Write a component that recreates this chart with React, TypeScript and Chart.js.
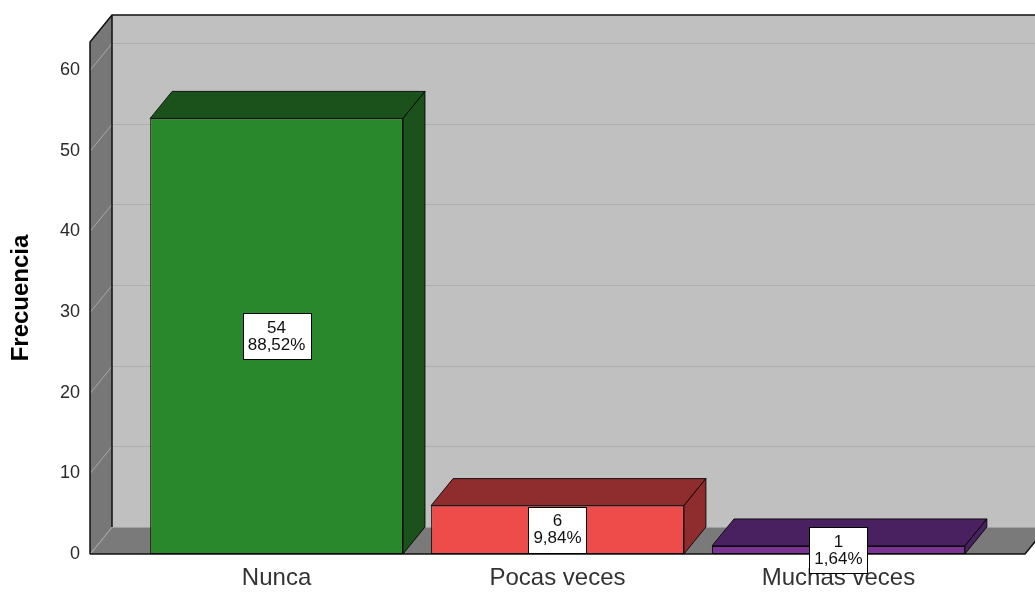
import React, { useEffect, useRef } from 'react';
import { Chart, registerables } from 'chart.js';

Chart.register(...registerables);

const categories = ['Nunca', 'Pocas veces', 'Muchas veces'];
const counts = [54, 6, 1];
const percents = ['88,52%', '9,84%', '1,64%'];
const yTicks = [0, 10, 20, 30, 40, 50, 60];
const frontColors = ['#2A882C', '#EE4B4B', '#7B3394'];
const darkColors = ['#1B521B', '#8E2C2E', '#4A2160'];

const Y_MAX = 63.47;
const X_MIN = -0.664;
const X_MAX = 2.664;
const DX = 22;
const DY = -27;
const FONT = '"Liberation Sans", Arial, sans-serif';

const wallsPlugin = {
  id: 'walls3d',
  beforeDraw(chart: any) {
    const { ctx, chartArea } = chart;
    const { left: L, right: R, top: T, bottom: B } = chartArea;
    const yScale = chart.scales.y;
    ctx.save();
    ctx.fillStyle = '#C0C0C0';
    ctx.fillRect(L + DX, T + DY, R - L + 40, B - T);
    ctx.fillStyle = '#777777';
    ctx.beginPath();
    ctx.moveTo(L, T);
    ctx.lineTo(L + DX, T + DY);
    ctx.lineTo(L + DX, B + DY);
    ctx.lineTo(L, B);
    ctx.closePath();
    ctx.fill();
    ctx.fillStyle = '#7A7A7A';
    ctx.beginPath();
    ctx.moveTo(L, B);
    ctx.lineTo(L + DX, B + DY);
    ctx.lineTo(R + DX, B + DY);
    ctx.lineTo(R, B);
    ctx.closePath();
    ctx.fill();
    ctx.lineWidth = 1;
    yTicks.forEach((v) => {
      const py = Math.round(yScale.getPixelForValue(v)) + 0.5;
      if (v > 0) {
        ctx.strokeStyle = '#ADADAD';
        ctx.beginPath();
        ctx.moveTo(L + DX, py + DY);
        ctx.lineTo(R + DX + 40, py + DY);
        ctx.stroke();
      }
      ctx.strokeStyle = '#A8A8A8';
      ctx.beginPath();
      ctx.moveTo(L, py);
      ctx.lineTo(L + DX, py + DY);
      ctx.stroke();
    });
    ctx.strokeStyle = '#A0A0A0';
    ctx.beginPath();
    ctx.moveTo(L + DX, B + DY + 0.5);
    ctx.lineTo(R + DX + 40, B + DY + 0.5);
    ctx.stroke();
    ctx.strokeStyle = '#111111';
    ctx.lineWidth = 1.5;
    ctx.beginPath();
    ctx.moveTo(L, B);
    ctx.lineTo(L, T);
    ctx.lineTo(L + DX, T + DY);
    ctx.lineTo(R + DX + 40, T + DY);
    ctx.moveTo(L + DX, T + DY);
    ctx.lineTo(L + DX, B + DY);
    ctx.moveTo(L, B);
    ctx.lineTo(R, B);
    ctx.lineTo(R + DX, B + DY);
    ctx.stroke();
    ctx.restore();
  },
};

const barsPlugin = {
  id: 'bars3d',
  afterDatasetsDraw(chart: any) {
    const { ctx } = chart;
    const meta = chart.getDatasetMeta(0);
    ctx.save();
    meta.data.forEach((bar: any, i: number) => {
      const { x, y, base, width } = bar.getProps(['x', 'y', 'base', 'width'], true);
      const l = x - width / 2;
      const r = x + width / 2;
      ctx.fillStyle = darkColors[i];
      ctx.strokeStyle = 'rgba(0,0,0,0.85)';
      ctx.lineWidth = 1;
      ctx.beginPath();
      ctx.moveTo(l, y);
      ctx.lineTo(l + DX, y + DY);
      ctx.lineTo(r + DX, y + DY);
      ctx.lineTo(r, y);
      ctx.closePath();
      ctx.fill();
      ctx.stroke();
      ctx.beginPath();
      ctx.moveTo(r, y);
      ctx.lineTo(r + DX, y + DY);
      ctx.lineTo(r + DX, base + DY);
      ctx.lineTo(r, base);
      ctx.closePath();
      ctx.fill();
      ctx.stroke();
    });
    ctx.font = '17px ' + FONT;
    ctx.textAlign = 'center';
    ctx.textBaseline = 'middle';
    meta.data.forEach((bar: any, i: number) => {
      const { x, y, base } = bar.getProps(['x', 'y', 'base'], true);
      const cy = (y + base) / 2;
      const l1 = String(counts[i]);
      const l2 = percents[i];
      const w = Math.max(ctx.measureText(l1).width, ctx.measureText(l2).width) + 10;
      const h = 46;
      const bx = Math.round(x - w / 2) + 0.5;
      const by = Math.round(cy - h / 2) + 0.5;
      ctx.fillStyle = '#FFFFFF';
      ctx.fillRect(bx, by, Math.round(w), h);
      ctx.strokeStyle = '#000000';
      ctx.lineWidth = 1;
      ctx.strokeRect(bx, by, Math.round(w), h);
      ctx.fillStyle = '#111111';
      ctx.fillText(l1, x, cy - 8);
      ctx.fillText(l2, x, cy + 9);
    });
    ctx.restore();
  },
};

export default function App() {
  const canvasRef = useRef<HTMLCanvasElement | null>(null);

  useEffect(() => {
    if (!canvasRef.current) return;
    const chart = new Chart(canvasRef.current, {
      type: 'bar',
      data: {
        datasets: [
          {
            label: 'Frecuencia',
            data: counts.map((v, i) => ({ x: i, y: v })),
            backgroundColor: frontColors,
            borderColor: 'rgba(0,0,0,0.85)',
            borderWidth: 1,
            borderSkipped: false,
            barPercentage: 0.9,
            categoryPercentage: 1,
          },
        ],
      },
      options: {
        responsive: false,
        animation: false,
        maintainAspectRatio: false,
        layout: { padding: { left: 0, top: 42, right: 10, bottom: 0 } },
        plugins: {
          legend: { display: false },
          tooltip: { enabled: false },
        },
        scales: {
          x: {
            type: 'linear',
            offset: false,
            min: X_MIN,
            max: X_MAX,
            grace: 0,
            grid: { display: false, drawTicks: false, offset: false },
            border: { display: false },
            afterBuildTicks: (scale: any) => {
              scale.ticks = categories.map((_, i) => ({ value: i }));
            },
            afterFit: (scale: any) => {
              scale.height = 40;
            },
            ticks: {
              padding: 10,
              autoSkip: false,
              maxRotation: 0,
              color: '#333333',
              font: { family: FONT, size: 24 },
              callback: (v: any) => categories[Math.round(Number(v))] ?? '',
            },
          },
          y: {
            min: 0,
            max: Y_MAX,
            grid: { display: false, drawTicks: false },
            border: { display: false },
            afterBuildTicks: (scale: any) => {
              scale.ticks = yTicks.map((v) => ({ value: v }));
            },
            afterFit: (scale: any) => {
              scale.width = 90;
            },
            ticks: {
              padding: 10,
              color: '#2A2A2A',
              font: { family: FONT, size: 18 },
            },
            title: {
              display: true,
              text: 'Frecuencia',
              color: '#000000',
              padding: { top: 7, bottom: 0 },
              font: { family: FONT, size: 24, weight: 'bold', lineHeight: 1.2 },
            },
          },
        },
      },
      plugins: [wallsPlugin, barsPlugin],
    });
    return () => chart.destroy();
  }, []);

  return (
    <div
      style={{
        position: 'fixed',
        left: 0,
        top: 0,
        width: 1035,
        height: 594,
        overflow: 'hidden',
        background: '#FFFFFF',
      }}
    >
      <canvas ref={canvasRef} width={1035} height={594} style={{ width: 1035, height: 594, display: 'block' }} />
    </div>
  );
}
